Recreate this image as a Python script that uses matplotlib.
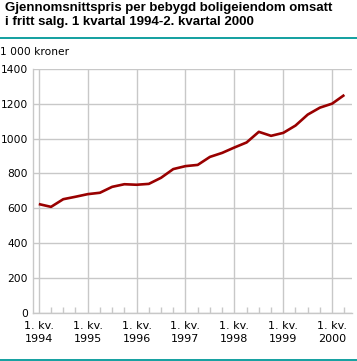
import matplotlib
matplotlib.use("Agg")
import matplotlib.pyplot as plt
from matplotlib.lines import Line2D
from matplotlib.ticker import MultipleLocator

years = [1994, 1995, 1996, 1997, 1998, 1999, 2000]
tick_labels = [f"1. kv.\n{y}" for y in years]
quarters = list(range(26))  # 1994Q1 .. 2000Q2
prices = [624, 608, 652, 666, 681, 689, 723, 738, 735, 740, 775, 825,
          842, 849, 895, 918, 949, 978, 1039, 1016, 1033, 1075, 1138, 1178,
          1201, 1251]

plt.rcParams['font.family'] = ['DejaVu Sans']
fig = plt.figure(figsize=(3.57, 3.61), dpi=100)
ax = fig.add_axes([0.0916, 0.1338, 0.8936, 0.6751])

grid_c = '#c8c8c8'
ax.plot(quarters, prices, color='#990000', lw=1.9, solid_capstyle='butt', zorder=3)

ax.set_xlim(-0.5, 25.6)
ax.set_ylim(0, 1400)
ax.set_yticks(range(0, 1401, 200))
ax.set_xticks([4 * i for i in range(len(years))])
ax.set_xticklabels(tick_labels, fontsize=8, linespacing=1.35)
ax.xaxis.set_minor_locator(MultipleLocator(1))
ax.grid(True, which='major', color=grid_c, lw=1)
ax.set_axisbelow(True)
for s in ['top', 'right']:
    ax.spines[s].set_visible(False)
for s in ['left', 'bottom']:
    ax.spines[s].set_color(grid_c)
    ax.spines[s].set_linewidth(1)
ax.tick_params(axis='y', length=0, labelsize=7.7, pad=3.3)
ax.tick_params(axis='x', which='major', length=0, pad=6)
ax.tick_params(axis='x', which='minor', direction='in', length=4.5, color=grid_c, width=1)

fig.text(0.014, 0.995, "Gjennomsnittspris per bebygd boligeiendom omsatt\ni fritt salg. 1 kvartal 1994-2. kvartal 2000",
         fontsize=9.5, fontweight='bold', family=['Liberation Sans'], va='top', ha='left', linespacing=1.2)
fig.text(0.0, 1 - 52 / 361, "1 000 kroner", fontsize=7.7, va='center', ha='left')

teal = '#009999'
fig.add_artist(Line2D([0, 1], [1 - 38.3 / 361] * 2, color=teal, lw=1.3, transform=fig.transFigure))
fig.add_artist(Line2D([0, 1], [1 - 360 / 361] * 2, color=teal, lw=1.3, transform=fig.transFigure))

fig.savefig("out.png", dpi=100)
